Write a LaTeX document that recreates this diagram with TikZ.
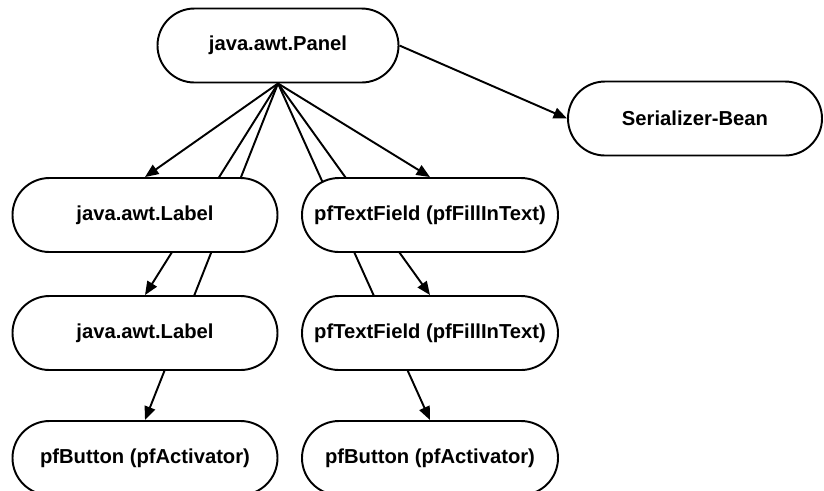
\documentclass[tikz,border=0pt]{standalone}
\usepackage{fontspec}
\setmainfont{Liberation Sans}
\usetikzlibrary{arrows.meta,backgrounds}
\tikzset{
  cls/.style={draw, line width=1.1pt, fill=white, rounded corners=0.74cm,
    minimum height=1.48cm, inner sep=0pt, font=\fontsize{11.5}{14}\selectfont\bfseries},
  inh/.style={line width=1.1pt, -{Triangle[length=0.27cm,width=0.22cm]}}
}
\begin{document}
\begin{tikzpicture}
  \useasboundingbox (0,0) rectangle (16.48,-9.8);
  \node[cls, minimum width=4.82cm] (panel) at (5.56,-0.91) {java.awt.Panel};
  \node[cls, minimum width=5.08cm] (bean) at (13.9,-2.37) {Serializer-Bean};
  \node[cls, minimum width=5.3cm] (labelA) at (2.9,-4.3) {java.awt.Label};
  \node[cls, minimum width=5.12cm] (fieldA) at (8.6,-4.3) {pfTextField (pfFillInText)};
  \node[cls, minimum width=5.3cm] (labelB) at (2.9,-6.66) {java.awt.Label};
  \node[cls, minimum width=5.12cm] (fieldB) at (8.6,-6.66) {pfTextField (pfFillInText)};
  \node[cls, minimum width=5.3cm] (buttonA) at (2.9,-9.16) {pfButton (pfActivator)};
  \node[cls, minimum width=5.12cm] (buttonB) at (8.6,-9.16) {pfButton (pfActivator)};
  % inheritance lines run behind the boxes
  \begin{scope}[on background layer]
    \draw[inh] (panel.east) -- (bean.west);
    \draw[inh] (panel.south) -- (labelA.north);
    \draw[inh] (panel.south) -- (labelB.north);
    \draw[inh] (panel.south) -- (buttonA.north);
    \draw[inh] (panel.south) -- (fieldA.north);
    \draw[inh] (panel.south) -- (fieldB.north);
    \draw[inh] (panel.south) -- (buttonB.north);
  \end{scope}
\end{tikzpicture}
\end{document}
